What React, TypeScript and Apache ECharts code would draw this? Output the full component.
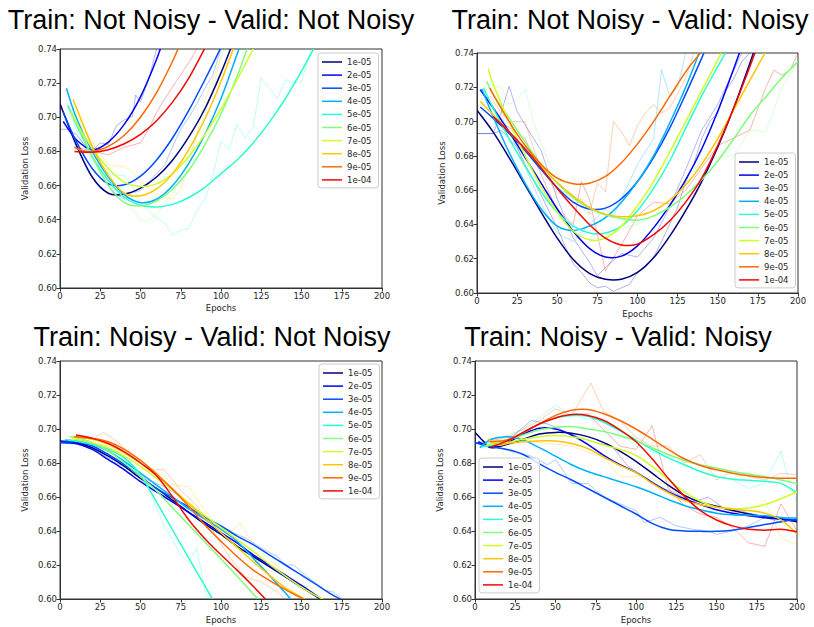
import React, { useEffect, useRef } from "react";
import * as echarts from "echarts";

// ---------- categories / tick labels ----------
const LR_LABELS = ["1e-05", "2e-05", "3e-05", "4e-05", "5e-05", "6e-05", "7e-05", "8e-05", "9e-05", "1e-04"];
const LR_COLORS = ["#00007f", "#0000f1", "#004cff", "#00b0ff", "#29ffce", "#7dff7a", "#ceff29", "#ffc600", "#ff6800", "#f10800"];
const PANEL_TITLES = [
  "Train: Not Noisy - Valid: Not Noisy",
  "Train: Not Noisy - Valid: Noisy",
  "Train: Noisy - Valid: Not Noisy",
  "Train: Noisy - Valid: Noisy",
];
const X_TICK_STEP = 25;
const Y_TICK_STEP = 0.02;

// ---------- top-left: fitted curves (epoch, loss) ----------
const TL_FIT = [
  [[0,0.708],[10,0.684],[20,0.665],[30,0.6555],[40,0.655],[50,0.6585],[60,0.665],[70,0.675],[80,0.6885],[90,0.705],[100,0.726],[110,0.75]],
  [[2,0.6975],[10,0.687],[20,0.681],[30,0.6855],[40,0.696],[50,0.712],[60,0.734],[65,0.748]],
  [[2,0.703],[10,0.686],[20,0.670],[30,0.661],[40,0.6605],[50,0.6655],[60,0.675],[70,0.688],[80,0.704],[90,0.722],[100,0.741],[105,0.752]],
  [[4,0.717],[10,0.700],[20,0.680],[30,0.665],[40,0.6545],[50,0.650],[60,0.652],[70,0.660],[80,0.673],[90,0.69],[100,0.711],[110,0.737],[115,0.75]],
  [[5,0.707],[10,0.696],[20,0.677],[30,0.663],[40,0.653],[50,0.6485],[60,0.6475],[70,0.649],[80,0.653],[90,0.659],[100,0.667],[110,0.675],[120,0.685],[130,0.697],[140,0.711],[150,0.727],[158,0.741]],
  [[6,0.705],[10,0.697],[20,0.677],[30,0.660],[40,0.650],[50,0.648],[60,0.651],[70,0.658],[80,0.669],[90,0.684],[100,0.702],[110,0.724],[118,0.745]],
  [[7,0.703],[10,0.697],[20,0.682],[30,0.670],[40,0.662],[50,0.6595],[60,0.661],[70,0.667],[80,0.677],[90,0.690],[100,0.705],[110,0.722],[120,0.74],[125,0.75]],
  [[8,0.7105],[10,0.706],[20,0.683],[30,0.666],[40,0.6555],[50,0.654],[60,0.658],[70,0.667],[80,0.681],[90,0.699],[100,0.721],[110,0.746]],
  [[9,0.6823],[15,0.6802],[20,0.680],[30,0.683],[40,0.6895],[50,0.700],[60,0.7145],[70,0.733],[75,0.744]],
  [[9,0.680],[20,0.6795],[30,0.681],[40,0.6845],[50,0.690],[60,0.698],[70,0.709],[80,0.723],[90,0.7405],[95,0.75]],
];
const TL_RAW_LR = [4, 5, 1, 2, 9, 7];
const TL_RAW = [
  [[4,0.708],[10,0.693],[15,0.683],[20,0.675],[25,0.671],[30,0.667],[35,0.666],[40,0.666],[45,0.659],[50,0.650],[55,0.645],[60,0.641],[65,0.638],[70,0.631],[75,0.634],[80,0.635],[85,0.645],[90,0.652],[95,0.666],[100,0.686],[105,0.681],[110,0.696],[115,0.688],[120,0.694],[125,0.723],[130,0.717],[135,0.711],[140,0.722],[145,0.72],[150,0.721],[156,0.74]],
  [[6,0.705],[10,0.696],[20,0.678],[30,0.668],[40,0.652],[45,0.646],[50,0.640],[55,0.6395],[60,0.643],[65,0.650],[70,0.655],[75,0.665],[80,0.676],[85,0.690],[90,0.702],[95,0.718],[100,0.735],[105,0.745]],
  [[0,0.693],[5,0.693],[10,0.690],[15,0.684],[20,0.6805],[25,0.685],[30,0.684],[35,0.695],[40,0.6985],[45,0.7005],[47,0.713],[50,0.709],[55,0.722],[60,0.74]],
  [[30,0.660],[35,0.655],[40,0.652],[45,0.656],[50,0.657],[55,0.662],[60,0.667],[65,0.672],[70,0.683],[75,0.693],[80,0.700],[85,0.708],[90,0.717],[95,0.725],[100,0.74]],
  [[9,0.683],[20,0.68],[30,0.678],[40,0.6825],[50,0.685],[55,0.693],[60,0.703],[70,0.718],[80,0.732],[85,0.74]],
  [[8,0.705],[20,0.686],[30,0.672],[40,0.671],[45,0.668],[50,0.662],[60,0.655],[70,0.652],[75,0.658],[80,0.672],[85,0.690],[90,0.71],[100,0.735]],
];

// ---------- top-right ----------
const TR_FIT = [
  [[0,0.7066],[10,0.694],[20,0.679],[30,0.663],[40,0.647],[50,0.632],[60,0.6195],[70,0.6115],[80,0.608],[90,0.608],[100,0.612],[110,0.6205],[120,0.633],[130,0.648],[140,0.665],[150,0.685],[160,0.708],[170,0.734],[175,0.748]],
  [[2,0.7186],[10,0.708],[20,0.694],[30,0.679],[40,0.664],[50,0.649],[60,0.636],[70,0.626],[80,0.621],[90,0.6215],[100,0.6275],[110,0.638],[120,0.651],[130,0.666],[140,0.684],[150,0.706],[160,0.731],[165,0.744]],
  [[2,0.7085],[10,0.702],[20,0.693],[30,0.683],[40,0.672],[50,0.6615],[60,0.653],[70,0.649],[80,0.6495],[90,0.655],[100,0.665],[110,0.679],[120,0.696],[130,0.716],[140,0.737],[145,0.748]],
  [[3,0.719],[10,0.703],[20,0.682],[30,0.664],[40,0.649],[50,0.639],[60,0.6365],[70,0.639],[80,0.644],[90,0.653],[100,0.665],[110,0.680],[120,0.699],[130,0.720],[140,0.744]],
  [[4,0.7196],[10,0.708],[20,0.690],[30,0.674],[40,0.659],[50,0.647],[60,0.639],[70,0.635],[80,0.635],[90,0.639],[100,0.648],[110,0.661],[120,0.677],[130,0.696],[140,0.715],[150,0.732],[156,0.742]],
  [[6,0.7235],[10,0.716],[20,0.702],[30,0.688],[40,0.675],[50,0.664],[60,0.6555],[70,0.6495],[80,0.6455],[90,0.6435],[100,0.6425],[110,0.645],[120,0.650],[130,0.657],[140,0.666],[150,0.677],[160,0.690],[170,0.7035],[180,0.7145],[190,0.7255],[200,0.735]],
  [[7,0.731],[10,0.722],[20,0.700],[30,0.680],[40,0.662],[50,0.647],[60,0.636],[70,0.631],[80,0.632],[90,0.639],[100,0.651],[110,0.665],[120,0.682],[130,0.700],[140,0.718],[150,0.736],[155,0.745]],
  [[2,0.7118],[10,0.704],[20,0.694],[30,0.684],[40,0.674],[50,0.6645],[60,0.6565],[70,0.650],[80,0.646],[90,0.6445],[100,0.645],[110,0.648],[120,0.654],[130,0.663],[140,0.675],[150,0.690],[160,0.707],[170,0.724],[180,0.741]],
  [[8,0.7196],[10,0.716],[20,0.700],[30,0.686],[40,0.675],[50,0.667],[60,0.6637],[70,0.664],[80,0.668],[90,0.676],[100,0.687],[110,0.700],[120,0.7145],[130,0.729],[140,0.741]],
  [[10,0.703],[20,0.694],[30,0.684],[40,0.673],[50,0.661],[60,0.650],[70,0.640],[80,0.632],[90,0.628],[100,0.6285],[110,0.634],[120,0.642],[130,0.653],[140,0.667],[150,0.686],[160,0.708],[170,0.732],[175,0.745]],
];
const TR_RAW_LR = [0, 1, 8, 9, 3, 5];
const TR_RAW = [
  [[0,0.693],[10,0.693],[15,0.695],[20,0.69],[25,0.685],[30,0.675],[40,0.657],[50,0.638],[55,0.627],[60,0.617],[65,0.612],[70,0.606],[75,0.603],[80,0.604],[85,0.601],[90,0.603],[95,0.605],[100,0.612],[105,0.615],[110,0.621],[115,0.630],[120,0.640],[125,0.650],[130,0.665],[135,0.675],[140,0.69],[145,0.70],[150,0.705],[155,0.718],[160,0.725],[165,0.735],[170,0.74]],
  [[0,0.693],[10,0.693],[15,0.705],[20,0.7205],[25,0.706],[30,0.698],[40,0.683],[50,0.655],[60,0.632],[70,0.618],[75,0.610],[80,0.615],[90,0.623],[100,0.621],[110,0.632],[120,0.650],[130,0.672],[140,0.695],[150,0.71],[160,0.73],[165,0.74]],
  [[8,0.715],[15,0.705],[20,0.70],[30,0.70],[35,0.685],[40,0.673],[50,0.658],[55,0.659],[60,0.652],[65,0.655],[70,0.646],[75,0.664],[80,0.659],[85,0.70],[90,0.694],[95,0.686],[100,0.698],[105,0.705],[110,0.71],[115,0.705],[120,0.708],[130,0.725],[135,0.74]],
  [[10,0.703],[30,0.69],[50,0.648],[60,0.640],[65,0.665],[70,0.655],[80,0.613],[90,0.628],[100,0.645],[110,0.653],[120,0.652],[130,0.66],[150,0.686],[170,0.695],[180,0.72],[185,0.73],[190,0.727],[195,0.73],[200,0.74]],
  [[3,0.719],[20,0.695],[40,0.652],[50,0.635],[60,0.630],[70,0.640],[80,0.649],[85,0.645],[90,0.655],[100,0.675],[110,0.69],[115,0.73],[120,0.715],[125,0.72],[130,0.74]],
  [[6,0.722],[15,0.72],[20,0.71],[25,0.713],[30,0.719],[35,0.70],[45,0.675],[55,0.663],[65,0.650],[80,0.635],[100,0.64],[120,0.65],[140,0.678],[160,0.680],[170,0.695],[180,0.694],[190,0.72],[200,0.735]],
];

// ---------- bottom-left ----------
const BL_FIT = [
  [[0,0.693],[10,0.692],[20,0.689],[30,0.684],[40,0.678],[50,0.671],[60,0.665],[70,0.658],[80,0.651],[90,0.644],[100,0.638],[110,0.631],[120,0.625],[130,0.619],[140,0.613],[150,0.607],[160,0.601],[165,0.598]],
  [[0,0.692],[10,0.6915],[20,0.688],[30,0.682],[40,0.676],[50,0.669],[60,0.663],[70,0.657],[80,0.651],[90,0.645],[100,0.639],[110,0.633],[120,0.626],[130,0.620],[140,0.614],[150,0.608],[160,0.6015],[165,0.598]],
  [[0,0.692],[10,0.6925],[20,0.690],[30,0.685],[40,0.679],[50,0.672],[60,0.665],[70,0.6595],[80,0.654],[90,0.648],[100,0.643],[110,0.637],[120,0.632],[130,0.626],[140,0.620],[150,0.614],[160,0.608],[170,0.602],[175,0.5995]],
  [[3,0.6935],[10,0.693],[20,0.691],[30,0.687],[40,0.681],[50,0.674],[60,0.667],[70,0.660],[80,0.653],[90,0.647],[100,0.641],[110,0.634],[120,0.624],[130,0.614],[140,0.6035],[145,0.598]],
  [[5,0.6935],[10,0.693],[20,0.691],[30,0.688],[40,0.683],[50,0.673],[60,0.657],[70,0.6405],[80,0.624],[90,0.6077],[95,0.5995]],
  [[6,0.6955],[10,0.695],[20,0.692],[30,0.687],[40,0.680],[50,0.672],[60,0.6635],[70,0.6535],[80,0.6435],[90,0.6335],[100,0.6235],[110,0.6135],[120,0.603],[125,0.598]],
  [[7,0.694],[10,0.694],[20,0.692],[30,0.689],[40,0.684],[50,0.678],[60,0.671],[70,0.664],[80,0.6565],[90,0.649],[100,0.642],[110,0.635],[120,0.628],[130,0.6205],[140,0.6135],[150,0.607],[160,0.6015],[165,0.599]],
  [[8,0.6955],[20,0.694],[30,0.691],[40,0.686],[50,0.680],[60,0.6725],[70,0.6645],[80,0.656],[90,0.6475],[100,0.639],[110,0.6305],[120,0.622],[130,0.614],[140,0.6065],[150,0.601],[155,0.598]],
  [[9,0.6955],[20,0.6945],[30,0.6925],[40,0.688],[50,0.6815],[60,0.6735],[70,0.6645],[80,0.6545],[90,0.6435],[100,0.634],[110,0.625],[120,0.617],[130,0.611],[140,0.6055],[150,0.6005],[153,0.599]],
  [[10,0.6965],[20,0.6945],[30,0.6915],[40,0.6865],[50,0.680],[60,0.6725],[70,0.660],[80,0.6465],[90,0.6355],[100,0.626],[110,0.617],[120,0.6075],[128,0.5995]],
];
const BL_RAW_LR = [4, 8, 7, 2];
const BL_RAW = [
  [[5,0.694],[20,0.69],[35,0.686],[45,0.678],[55,0.665],[65,0.642],[70,0.635],[75,0.625],[80,0.622],[85,0.630],[88,0.615],[90,0.605],[92,0.600]],
  [[9,0.695],[20,0.694],[27,0.698],[35,0.693],[45,0.684],[55,0.676],[65,0.676],[75,0.664],[85,0.655],[95,0.64],[105,0.625],[115,0.613],[125,0.61],[135,0.604],[140,0.60]],
  [[8,0.695],[30,0.69],[50,0.68],[65,0.672],[70,0.667],[80,0.666],[90,0.652],[100,0.641],[107,0.64],[112,0.645],[118,0.635],[125,0.628],[140,0.615],[150,0.605],[155,0.608],[160,0.600]],
  [[0,0.692],[10,0.691],[20,0.689],[35,0.680],[45,0.676],[55,0.670],[65,0.666],[75,0.660],[85,0.652],[95,0.645],[105,0.640],[115,0.636],[125,0.630],[135,0.625],[140,0.62],[145,0.62],[155,0.612],[165,0.605],[170,0.604],[175,0.600]],
];

// ---------- bottom-right ----------
const BR_FIT = [
  [[0,0.698],[5,0.693],[10,0.689],[20,0.691],[30,0.694],[40,0.697],[50,0.698],[60,0.6975],[70,0.6955],[80,0.692],[90,0.687],[100,0.681],[110,0.674],[120,0.667],[130,0.661],[140,0.657],[150,0.6545],[160,0.652],[170,0.650],[180,0.6485],[190,0.647],[200,0.6455]],
  [[2,0.6925],[10,0.6895],[20,0.692],[30,0.697],[40,0.7005],[50,0.700],[60,0.6965],[70,0.691],[80,0.6845],[90,0.679],[100,0.6745],[110,0.6685],[120,0.663],[130,0.659],[140,0.6555],[150,0.6525],[160,0.6505],[170,0.649],[180,0.6478],[190,0.647],[200,0.6465]],
  [[0,0.692],[10,0.6895],[20,0.688],[30,0.685],[40,0.6795],[50,0.6745],[60,0.670],[70,0.665],[80,0.660],[90,0.655],[100,0.650],[110,0.6445],[120,0.641],[130,0.640],[140,0.6398],[150,0.6398],[160,0.6405],[170,0.642],[180,0.6438],[190,0.6455],[200,0.647]],
  [[3,0.689],[10,0.694],[20,0.6955],[30,0.6935],[40,0.689],[50,0.684],[60,0.679],[70,0.675],[80,0.672],[90,0.669],[100,0.666],[110,0.6625],[120,0.6585],[130,0.655],[140,0.6525],[150,0.6505],[160,0.6495],[170,0.6492],[180,0.649],[190,0.648],[200,0.6475]],
  [[4,0.6895],[10,0.6905],[20,0.693],[30,0.698],[40,0.703],[50,0.7065],[60,0.708],[70,0.7075],[80,0.704],[90,0.699],[100,0.6935],[110,0.688],[120,0.683],[130,0.679],[140,0.675],[150,0.672],[160,0.6705],[170,0.6698],[180,0.6692],[190,0.668],[200,0.6625]],
  [[6,0.690],[10,0.691],[20,0.6935],[30,0.6965],[40,0.6995],[50,0.701],[60,0.7015],[70,0.700],[80,0.6985],[90,0.696],[100,0.693],[110,0.689],[120,0.685],[130,0.6815],[140,0.679],[150,0.677],[160,0.675],[170,0.6735],[180,0.672],[190,0.670],[200,0.668]],
  [[7,0.6905],[10,0.691],[20,0.692],[30,0.694],[40,0.6955],[50,0.6962],[60,0.6955],[70,0.6935],[80,0.6905],[90,0.688],[100,0.6845],[110,0.678],[120,0.6705],[130,0.663],[140,0.6575],[150,0.654],[160,0.653],[170,0.6535],[180,0.6555],[190,0.659],[200,0.663]],
  [[8,0.694],[15,0.6905],[20,0.6915],[30,0.6925],[40,0.693],[50,0.693],[60,0.6915],[70,0.6885],[80,0.6835],[90,0.6785],[100,0.6745],[110,0.668],[120,0.6625],[130,0.658],[140,0.6555],[150,0.654],[160,0.653],[170,0.652],[180,0.6505],[190,0.6465],[200,0.6385]],
  [[9,0.6925],[20,0.6935],[30,0.698],[40,0.703],[50,0.708],[60,0.711],[70,0.7115],[80,0.709],[90,0.705],[100,0.700],[110,0.694],[120,0.688],[130,0.6825],[140,0.6785],[150,0.676],[160,0.674],[170,0.6725],[180,0.6715],[190,0.671],[200,0.671]],
  [[10,0.6895],[20,0.693],[30,0.698],[40,0.703],[50,0.7065],[60,0.7085],[70,0.708],[80,0.705],[90,0.6995],[100,0.6925],[110,0.6825],[120,0.671],[130,0.6605],[140,0.652],[150,0.6465],[160,0.643],[170,0.641],[180,0.6405],[190,0.641],[200,0.6395]],
];
const BR_RAW_LR = [8, 9, 4, 2, 1, 7];
const BR_RAW = [
  [[9,0.693],[20,0.695],[30,0.70],[40,0.705],[50,0.712],[60,0.708],[72,0.727],[80,0.71],[90,0.705],[100,0.695],[110,0.69],[120,0.69],[130,0.68],[140,0.685],[150,0.67],[160,0.675],[170,0.672],[180,0.67],[190,0.674],[200,0.673]],
  [[10,0.69],[30,0.698],[50,0.707],[70,0.709],[90,0.69],[100,0.688],[110,0.702],[120,0.665],[130,0.655],[140,0.650],[150,0.648],[160,0.642],[170,0.633],[180,0.631],[190,0.656],[200,0.64]],
  [[4,0.69],[30,0.70],[50,0.714],[60,0.708],[70,0.706],[80,0.705],[100,0.69],[120,0.683],[140,0.675],[160,0.67],[170,0.665],[180,0.668],[190,0.687],[195,0.67],[200,0.656]],
  [[0,0.692],[15,0.689],[25,0.686],[35,0.684],[45,0.679],[50,0.682],[55,0.675],[60,0.668],[70,0.668],[80,0.660],[90,0.656],[100,0.652],[105,0.645],[115,0.648],[125,0.643],[135,0.641],[145,0.64],[150,0.638],[160,0.640],[170,0.643],[180,0.648],[190,0.645],[200,0.647]],
  [[0,0.692],[20,0.693],[35,0.705],[45,0.703],[55,0.699],[65,0.695],[75,0.692],[85,0.69],[95,0.678],[105,0.672],[115,0.666],[125,0.662],[135,0.657],[145,0.66],[155,0.653],[165,0.652],[175,0.649],[185,0.648],[200,0.646]],
  [[8,0.694],[40,0.692],[60,0.690],[80,0.683],[90,0.672],[100,0.672],[110,0.671],[130,0.66],[150,0.655],[170,0.648],[180,0.658],[190,0.636],[200,0.632]],
];

// ---------- layout (not data) ----------
const PANELS = [
  { fit: TL_FIT, raw: TL_RAW, rawLr: TL_RAW_LR, grid: { left: 60, top: 49, width: 322, height: 239 }, legend: { left: 318, top: 53 }, title: { x: 211, y: 6 }, xNameGap: 15 },
  { fit: TR_FIT, raw: TR_RAW, rawLr: TR_RAW_LR, grid: { left: 477, top: 53, width: 321, height: 240 }, legend: { left: 735, top: 153 }, title: { x: 630, y: 6 }, xNameGap: 16 },
  { fit: BL_FIT, raw: BL_RAW, rawLr: BL_RAW_LR, grid: { left: 60, top: 361, width: 322, height: 238 }, legend: { left: 319, top: 364 }, title: { x: 212, y: 323 }, xNameGap: 16 },
  { fit: BR_FIT, raw: BR_RAW, rawLr: BR_RAW_LR, grid: { left: 475, top: 361, width: 322, height: 238 }, legend: { left: 479, top: 458 }, title: { x: 618, y: 323 }, xNameGap: 16 },
];

const SMALL_FONT = "DejaVu Sans";
const TEXT_COLOR = "#262626";

// Draws a smooth (Catmull-Rom) curve through the data points, positioned with the axis scales.
function smoothRenderer(points: number[][], color: string) {
  return (params: any, api: any) => {
    if (params.dataIndex !== 0) return null;
    const pts = points.map((p) => api.coord(p));
    let d = `M${pts[0][0]},${pts[0][1]}`;
    for (let i = 0; i < pts.length - 1; i++) {
      const p0 = pts[i - 1] || pts[i];
      const p1 = pts[i];
      const p2 = pts[i + 1];
      const p3 = pts[i + 2] || p2;
      const c1x = p1[0] + (p2[0] - p0[0]) / 6;
      const c1y = p1[1] + (p2[1] - p0[1]) / 6;
      const c2x = p2[0] - (p3[0] - p1[0]) / 6;
      const c2y = p2[1] - (p3[1] - p1[1]) / 6;
      d += ` C${c1x},${c1y} ${c2x},${c2y} ${p2[0]},${p2[1]}`;
    }
    const cs = params.coordSys;
    return {
      type: "path",
      shape: { pathData: d },
      style: { stroke: color, fill: "none", lineWidth: 1.5 },
      clipPath: { type: "rect", shape: { x: cs.x, y: cs.y, width: cs.width, height: cs.height } },
      silent: true,
    };
  };
}

function buildOption() {
  const series: any[] = [];
  PANELS.forEach((p, i) => {
    p.raw.forEach((d, k) => {
      series.push({
        type: "line",
        name: "raw-" + LR_LABELS[p.rawLr[k]],
        xAxisIndex: i,
        yAxisIndex: i,
        data: d,
        symbol: "none",
        silent: true,
        z: 1,
        lineStyle: { width: 1, color: LR_COLORS[p.rawLr[k]], opacity: 0.3 },
      });
    });
    p.fit.forEach((d, k) => {
      series.push({
        type: "custom",
        name: LR_LABELS[k],
        xAxisIndex: i,
        yAxisIndex: i,
        data: d,
        encode: { x: 0, y: 1 },
        renderItem: smoothRenderer(d, LR_COLORS[k]),
        silent: true,
        z: 2,
        itemStyle: { color: LR_COLORS[k] },
      });
    });
  });

  return {
    animation: false,
    backgroundColor: "#ffffff",
    title: PANELS.map((p, i) => ({
      text: PANEL_TITLES[i],
      left: p.title.x,
      top: p.title.y,
      textAlign: "center",
      padding: 0,
      textStyle: { fontSize: 27, fontWeight: "normal", color: "#000", fontFamily: "Liberation Sans" },
    })),
    grid: PANELS.map((p) => ({
      ...p.grid,
      show: true,
      borderColor: "#333",
      borderWidth: 1,
      backgroundColor: "transparent",
    })),
    xAxis: PANELS.map((p, i) => ({
      gridIndex: i,
      type: "value",
      min: 0,
      max: 200,
      interval: X_TICK_STEP,
      name: "Epochs",
      nameLocation: "middle",
      nameGap: p.xNameGap,
      nameTextStyle: { fontSize: 8.5, color: TEXT_COLOR, fontFamily: SMALL_FONT },
      axisLine: { show: true, onZero: false, lineStyle: { color: "#333", width: 1 } },
      axisTick: { show: true, inside: false, length: 3.5, lineStyle: { color: "#333" } },
      axisLabel: { fontSize: 8.5, color: TEXT_COLOR, margin: 3, fontFamily: SMALL_FONT },
      splitLine: { show: false },
    })),
    yAxis: PANELS.map((p, i) => ({
      gridIndex: i,
      type: "value",
      min: 0.6,
      max: 0.74,
      interval: Y_TICK_STEP,
      name: "Validation Loss",
      nameLocation: "middle",
      nameGap: 31,
      nameTextStyle: { fontSize: 8.5, color: TEXT_COLOR, fontFamily: SMALL_FONT },
      axisLine: { show: true, onZero: false, lineStyle: { color: "#333", width: 1 } },
      axisTick: { show: true, inside: false, length: 3.5, lineStyle: { color: "#333" } },
      axisLabel: {
        fontSize: 8.5,
        color: TEXT_COLOR,
        margin: 3,
        fontFamily: SMALL_FONT,
        formatter: (v: number) => v.toFixed(2),
      },
      splitLine: { show: false },
    })),
    legend: PANELS.map((p) => ({
      orient: "vertical",
      left: p.legend.left,
      top: p.legend.top,
      data: LR_LABELS.slice(),
      icon: "path://M0,0L20,0L20,1.5L0,1.5Z",
      itemWidth: 20,
      itemHeight: 10,
      itemGap: 3.1,
      padding: [4, 7, 3, 4],
      selectedMode: false,
      backgroundColor: "rgba(255,255,255,0.8)",
      borderColor: "#cccccc",
      borderWidth: 1,
      borderRadius: 3,
      itemStyle: { borderWidth: 0 },
      textStyle: { fontSize: 8.5, color: TEXT_COLOR, fontFamily: SMALL_FONT, lineHeight: 10 },
    })),
    series,
  };
}

export default function App() {
  const ref = useRef<HTMLDivElement>(null);
  useEffect(() => {
    document.body.style.margin = "0";
    if (!ref.current) return;
    const chart = echarts.init(ref.current, undefined, { renderer: "svg" });
    chart.setOption(buildOption() as any);
    return () => chart.dispose();
  }, []);
  return <div ref={ref} style={{ width: 814, height: 627 }} />;
}
